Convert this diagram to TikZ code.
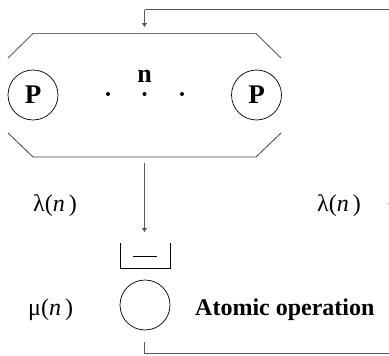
\documentclass[tikz,border=0pt]{standalone}
\usepackage{fontspec}
\setmainfont{Liberation Serif}
\usetikzlibrary{arrows.meta}
\begin{document}
\begin{tikzpicture}[x=1pt,y=-1pt,
  boxline/.style={draw=black!55,line width=1.1pt},
  conn/.style={draw=black!65,line width=0.9pt},
  arr/.style={-{Triangle[width=5pt,length=4pt]}},
  proc/.style={circle,draw,line width=0.7pt,minimum size=50pt,inner sep=0pt,font=\fontsize{27}{29}\selectfont\bfseries},
  lbl/.style={font=\fontsize{24}{28}\selectfont},
  dotn/.style={circle,fill,inner sep=0pt,minimum size=4pt}]
\useasboundingbox (0,0) rectangle (389,356);
% box
\draw[boxline] (33,33.5) -- (256,33.5);
\draw[boxline] (33,33.5) -- (8,58);
\draw[boxline] (256,33.5) -- (281,58);
\draw[black!75,line width=0.8pt] (8,133) -- (33,157) -- (256,157) -- (281,133);
\coordinate (boxbot) at (144.5,163);
% processors
\node[proc] (p1) at (33,95) {P};
\node[proc] (p2) at (256.5,95) {P};
\node[dotn] (d1) at (108,94) {};
\node[dotn] (d2) at (144.5,94) {};
\node[dotn] (d3) at (182,94) {};
\node[font=\fontsize{26}{28}\selectfont\bfseries,anchor=base] (n) at (144.5,82) {n};
% queue
\draw[line width=0.7pt] (120,243) -- (120,268) -- (170,268) -- (170,243);
\draw[line width=0.7pt] (133,256) -- (157,256);
% atomic server
\node[circle,draw,line width=0.7pt,minimum size=50pt,inner sep=0pt] (srv) at (145,305) {};
% labels
\node[lbl,anchor=base west,inner sep=0pt] (l1) at (33,211) {λ(\textit{n}\,)};
\node[lbl,anchor=base west,inner sep=0pt] (l2) at (317,211) {λ(\textit{n}\,)};
\node[lbl,anchor=base west,inner sep=0pt] (mu) at (28,315) {μ(\textit{n}\,)};
\node[lbl,font=\fontsize{24}{28}\selectfont\bfseries,anchor=base west,inner sep=0pt] (atom) at (195,315) {Atomic operation};
% connectors
\coordinate (tr) at (395,9.5);
\coordinate (br) at (395,353);
\coordinate (bl) at (144.5,353);
\coordinate (bs) at (144.5,342);
\coordinate (tl) at (144.5,9.5);
\coordinate (tip) at (144.5,27);
\coordinate (qtip) at (144.5,232);
\draw[conn,arr] (boxbot) -- (qtip);
\draw[conn] (bs) -- (bl) -- (br) -- (tr) -- (tl);
\draw[conn,arr] (tl) -- (tip);
\draw[conn,-{Triangle[width=15pt,length=4pt]}] (br) -- (395,200);
\end{tikzpicture}
\end{document}
